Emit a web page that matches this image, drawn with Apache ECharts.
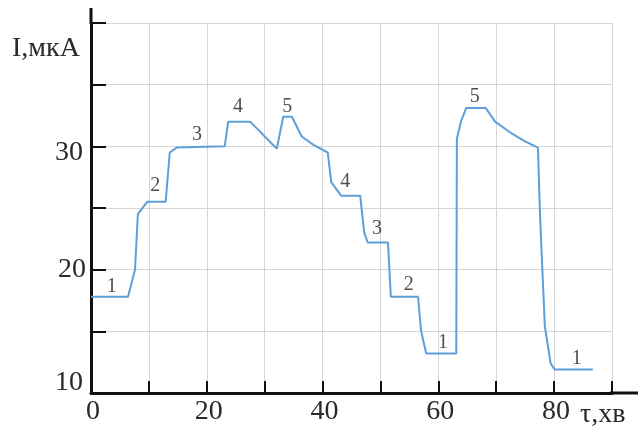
<!DOCTYPE html>
<html><head><meta charset="utf-8">
<script src="https://cdn.jsdelivr.net/npm/echarts@6/dist/echarts.min.js"></script>
<style>html,body{margin:0;padding:0;background:#fff}#c{width:638px;height:427px}</style>
</head><body><div id="c"></div>
<script>
// time, minutes
var times = [0, 6.4, 7.6, 8.1, 9.7, 12.9, 13.6, 14.8, 23.1, 23.7, 27.5, 32.1, 33.2, 34.7, 36.4, 38.5, 40.9, 41.5, 43.2, 46.5, 47.2, 47.8, 51.3, 51.8, 56.5, 57.0, 57.9, 63.1, 63.2, 63.9, 64.8, 68.2, 69.8, 72.5, 75.0, 77.2, 77.6, 78.4, 79.4, 80.1, 86.7];
// current, µA
var currents = [17.8, 17.8, 20.0, 24.5, 25.5, 25.5, 29.5, 29.9, 30.0, 32.0, 32.0, 29.8, 32.4, 32.4, 30.8, 30.1, 29.5, 27.1, 26.0, 26.0, 23.0, 22.2, 22.2, 17.8, 17.8, 15.1, 13.2, 13.2, 30.6, 32.0, 33.1, 33.1, 32.0, 31.1, 30.4, 29.9, 24.0, 15.4, 12.4, 11.9, 11.9];
// step labels
var labelTimes = [3.6, 11.1, 18.3, 25.4, 33.9, 43.9, 49.4, 54.9, 60.8, 66.3, 83.9];
var labelValues = [18.6, 26.8, 30.9, 33.2, 33.2, 27.1, 23.3, 18.8, 14.1, 34.0, 12.8];
var labelTexts = ['1', '2', '3', '4', '5', '4', '3', '2', '1', '5', '1'];
var xTickLabels = [0, 20, 40, 60, 80];
var yTickLabels = [10, 20, 30];

var serif = '"Liberation Serif", "DejaVu Serif", serif';
var chart = echarts.init(document.getElementById('c'));
var lineData = times.map(function (t, i) { return [t, currents[i]]; });
var lblData = labelTimes.map(function (t, i) { return { value: [t, labelValues[i]], name: labelTexts[i] }; });

chart.setOption({
  animation: false,
  backgroundColor: '#fff',
  grid: { left: 91, top: 23, right: 26, bottom: 34, containLabel: false },
  xAxis: {
    type: 'value', min: 0, max: 90, interval: 10,
    axisLine: { show: true, onZero: false, lineStyle: { color: '#111', width: 3 } },
    axisTick: { show: true, inside: true, length: 12, lineStyle: { color: '#111', width: 2 } },
    axisLabel: {
      margin: 5, color: '#2a2a2a', fontFamily: serif, fontSize: 28,
      formatter: function (v) { return xTickLabels.indexOf(v) >= 0 ? '{p|' + v + '}' : ''; },
      rich: { p: { fontFamily: serif, fontSize: 28, color: '#2a2a2a', padding: [0, 0, 0, 4] } }
    },
    splitLine: { show: true, lineStyle: { color: '#d6d6d6', width: 1 } }
  },
  yAxis: {
    type: 'value', min: 10, max: 40, interval: 5,
    axisLine: { show: true, onZero: false, lineStyle: { color: '#111', width: 3 } },
    axisTick: { show: true, inside: true, length: 15, lineStyle: { color: '#111', width: 2 } },
    axisLabel: {
      margin: 5, color: '#2a2a2a', fontFamily: serif, fontSize: 28,
      formatter: function (v) {
        if (yTickLabels.indexOf(v) < 0) return '';
        if (v === 10) return '{lo|' + v + '}';
        if (v === 30) return '{hi|' + v + '}';
        return '{m|' + v + '}';
      },
      rich: {
        lo: { fontFamily: serif, fontSize: 28, color: '#2a2a2a', padding: [0, 3, 20, 0] },
        hi: { fontFamily: serif, fontSize: 28, color: '#2a2a2a', padding: [12, 3, 0, 0] },
        m: { fontFamily: serif, fontSize: 28, color: '#2a2a2a', padding: [0, 0, 0, 0] }
      }
    },
    splitLine: { show: true, lineStyle: { color: '#d6d6d6', width: 1 } }
  },
  graphic: [
    { type: 'line', shape: { x1: 610, y1: 393, x2: 638, y2: 393 }, style: { stroke: '#111', lineWidth: 3 } },
    { type: 'line', shape: { x1: 91, y1: 24, x2: 91, y2: 8 }, style: { stroke: '#111', lineWidth: 3 } },
    { type: 'text', x: 12, y: 49, style: { text: 'I,мкА', font: '28px ' + serif, fill: '#2a2a2a', verticalAlign: 'middle' } },
    { type: 'text', x: 580, y: 415, style: { text: 'τ,хв', font: '28px ' + serif, fill: '#2a2a2a', verticalAlign: 'middle' } }
  ],
  series: [
    {
      type: 'line', data: lineData, symbol: 'none', smooth: false,
      lineStyle: { color: '#5e9fd8', width: 2 }, z: 3
    },
    {
      type: 'scatter', data: lblData, symbolSize: 0, z: 4,
      label: {
        show: true, position: 'inside', formatter: '{b}',
        fontFamily: serif, fontSize: 20, color: '#222'
      }
    }
  ]
});
</script></body></html>
